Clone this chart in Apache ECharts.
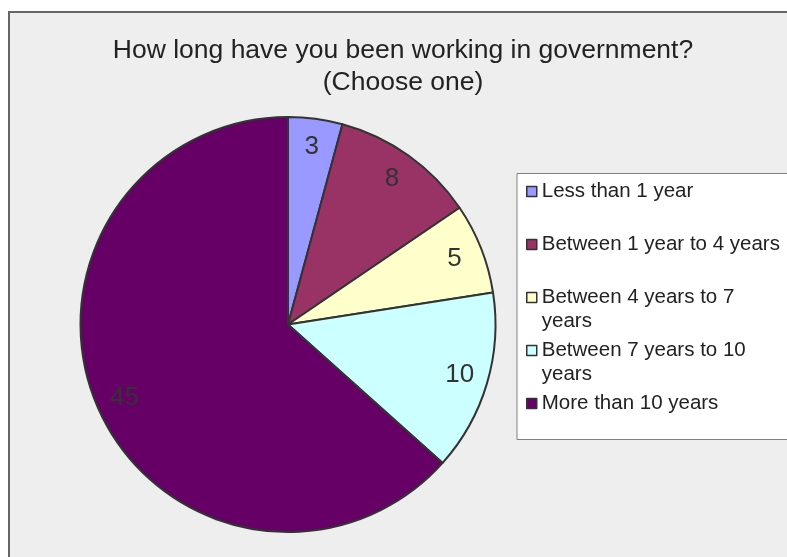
<!DOCTYPE html>
<html>
<head>
<meta charset="utf-8">
<script src="https://cdn.jsdelivr.net/npm/echarts@6/dist/echarts.min.js"></script>
<style>
  html, body { margin: 0; padding: 0; background: #ffffff; overflow: hidden; width: 787px; height: 557px; }
  #chart { position: absolute; left: 8px; top: 11px; width: 786px; height: 560px;
           border-left: 2px solid #666666; border-top: 2px solid #666666; }
</style>
</head>
<body>
<div id="chart"></div>
<script>
// Survey answers: years spent working in government
const categories = ['Less than 1 year', 'Between 1 year to 4 years', 'Between 4 years to 7 years',
                    'Between 7 years to 10 years', 'More than 10 years'];
const legendText = ['Less than 1 year', 'Between 1 year to 4 years', 'Between 4 years to 7\nyears',
                    'Between 7 years to 10\nyears', 'More than 10 years'];
const counts = [3, 8, 5, 10, 45];
const colors = ['#9999ff', '#993366', '#ffffcc', '#ccffff', '#660066'];
const titleLines = ['How long have you been working in government?', '(Choose one)'];

const FONT = '"Liberation Sans", Arial, sans-serif';
const TEXT = '#222222';

const chart = echarts.init(document.getElementById('chart'), null, { renderer: 'canvas' });

// pie geometry
const CX = 278, CY = 311.5, R = 207.5;
const LABEL_R = 0.863 * R;

// legend rows: one legend per entry so every row keeps the same pitch
const rowPitch = 53, firstRow = 178.5, lineH = 23.5;
const boxTop = 160.5, boxBottom = 426.5, boxLeft = 507, iconLeft = 516;

const legends = categories.map((name, i) => {
  const nLines = legendText[i].split('\n').length;
  // a leading blank line keeps the icon level with the first text line
  const txt = nLines > 1 ? '\n' + legendText[i] : legendText[i];
  const h = (nLines > 1 ? nLines + 1 : 1) * lineH;
  const center = firstRow + i * rowPitch;
  const base = {
    data: [name],
    orient: 'vertical',
    selectedMode: false,
    icon: 'rect',
    itemWidth: 10,
    itemHeight: 10,
    itemStyle: { borderColor: '#333333', borderWidth: 1.5 },
    textStyle: { fontFamily: FONT, fontSize: 20.5, color: TEXT, lineHeight: lineH },
    formatter: () => txt
  };
  if (i === 0) {
    return Object.assign(base, {
      left: boxLeft, top: boxTop,
      padding: [center - h / 2 - boxTop, 130, boxBottom - (center + h / 2), iconLeft - boxLeft],
      backgroundColor: '#ffffff', borderColor: '#808080', borderWidth: 1
    });
  }
  return Object.assign(base, { left: iconLeft, top: center - h / 2, padding: 0 });
});

chart.setOption({
  backgroundColor: '#eeeeee',
  animation: false,
  title: {
    text: titleLines.join('\n'),
    left: 'center',
    top: 22,
    padding: 0,
    textStyle: { fontFamily: FONT, fontSize: 26.5, fontWeight: 'normal', color: TEXT, lineHeight: 32 }
  },
  legend: legends,
  series: [{
    type: 'pie',
    center: [CX, CY],
    radius: R,
    startAngle: 90,
    clockwise: true,
    data: categories.map((n, i) => ({ name: n, value: counts[i], itemStyle: { color: colors[i] } })),
    itemStyle: { borderColor: '#333333', borderWidth: 2 },
    label: {
      show: true, position: 'inside', formatter: '{c}',
      fontFamily: FONT, fontSize: 26, color: '#333333'
    },
    labelLine: { show: false },
    emphasis: { disabled: true },
    // push each value label outward along its slice's bisector
    labelLayout: (p) => {
      const lx = p.labelRect.x + p.labelRect.width / 2;
      const ly = p.labelRect.y + p.labelRect.height / 2;
      const dx = lx - CX, dy = ly - CY, d = Math.hypot(dx, dy) || 1;
      return { x: CX + dx / d * LABEL_R, y: CY + dy / d * LABEL_R, align: 'center', verticalAlign: 'middle' };
    }
  }]
});
</script>
</body>
</html>
